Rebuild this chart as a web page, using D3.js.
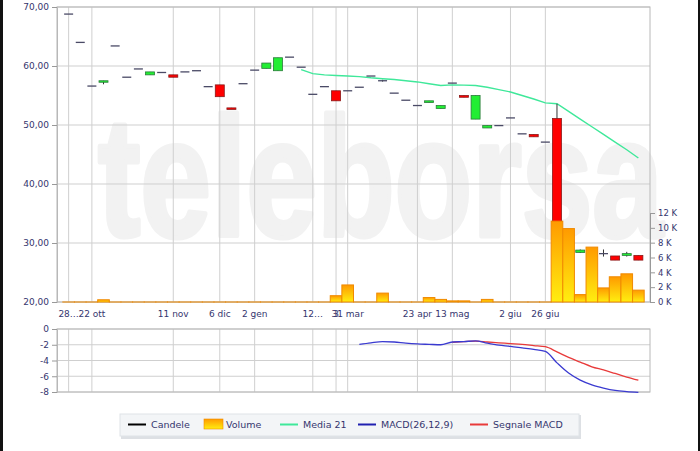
<!DOCTYPE html>
<html><head><meta charset="utf-8">
<script src="https://cdn.jsdelivr.net/npm/d3@7"></script>
<style>body{margin:0;background:#fff}svg{display:block;font-family:"DejaVu Sans",Verdana,sans-serif}</style>
</head><body><svg id="c" width="700" height="451"></svg>
<script>
// ---- data ----
const sessions = d3.range(50);
const opens  = [68.8,64.0,56.6,57.4,63.4,58.1,59.5,58.5,58.9,58.5,59.0,59.2,56.5,56.8,52.9,57.0,59.3,59.6,59.2,61.5,59.8,55.2,56.5,55.8,55.8,56.4,58.3,57.5,55.4,54.2,53.3,53.8,52.8,57.1,55.0,51.0,49.5,49.9,51.2,48.5,48.4,47.1,51.1,29.0,28.4,28.6,28.2,27.8,27.9,27.9];
const highs  = [68.8,64.0,56.6,57.5,63.4,58.1,59.5,59.0,58.9,58.5,59.0,59.2,56.5,56.8,52.9,57.0,59.3,60.5,61.4,61.5,59.8,55.2,56.5,55.8,55.8,56.4,58.3,57.65,55.4,54.2,53.3,54.1,53.3,57.1,55.0,55.0,49.9,49.9,51.2,48.5,48.4,47.1,53.6,29.0,28.9,28.6,28.9,27.8,28.5,27.9];
const lows   = [68.8,64.0,56.6,56.9,63.4,58.1,59.5,58.5,58.9,58.1,59.0,59.2,56.5,54.8,52.7,57.0,59.3,59.6,59.2,61.5,59.8,55.2,56.5,54.1,55.8,56.4,58.3,57.35,55.4,54.2,53.3,53.8,52.8,57.1,54.7,51.0,49.5,49.9,51.2,48.5,48.0,47.1,29.5,29.0,28.3,28.6,27.7,27.1,27.7,27.1];
const closes = [68.8,64.0,56.6,57.5,63.4,58.1,59.5,59.0,58.9,58.1,59.0,59.2,56.5,54.8,52.7,57.0,59.3,60.5,61.4,61.5,59.8,55.2,56.5,54.1,55.8,56.4,58.3,57.5,55.4,54.2,53.3,54.1,53.3,57.1,54.7,55.0,49.9,49.9,51.2,48.5,48.0,47.1,29.5,29.0,28.8,28.6,28.2,27.1,28.2,27.1];
const volumeK = [0,0,0,0.3,0,0,0,0,0,0,0,0,0,0,0,0,0,0,0,0,0,0,0,0.85,2.3,0,0,1.2,0,0,0,0.6,0.35,0.15,0.15,0,0.35,0,0,0,0,0,10.9,9.9,1.0,7.4,1.9,3.4,3.8,1.6];
const media21 = [null,null,null,null,null,null,null,null,null,null,null,null,null,null,null,null,null,null,null,null,59.4,58.7,58.5,58.4,58.3,58.2,58.0,57.85,57.7,57.5,57.3,57.0,56.7,56.8,56.75,56.7,56.4,56.0,55.6,55.0,54.4,53.75,53.6,52.3,51.0,49.7,48.4,47.1,45.8,44.4];
const macd = [null,null,null,null,null,null,null,null,null,null,null,null,null,null,null,null,null,null,null,null,null,null,null,null,null,-1.95,-1.75,-1.6,-1.65,-1.8,-1.9,-1.95,-2.0,-1.65,-1.6,-1.5,-1.8,-2.05,-2.2,-2.4,-2.6,-2.85,-4.3,-5.6,-6.5,-7.1,-7.5,-7.8,-7.95,-8.05];
const signal = [null,null,null,null,null,null,null,null,null,null,null,null,null,null,null,null,null,null,null,null,null,null,null,null,null,null,null,null,null,null,null,null,null,-1.7,-1.6,-1.55,-1.65,-1.75,-1.85,-1.95,-2.1,-2.25,-2.9,-3.6,-4.2,-4.8,-5.2,-5.65,-6.1,-6.5];
const tickIndex  = [0,2,9,13,16,21,23,24,30,33,38,41];
const tickLabels = ["28…","22 ott","11 nov","6 dic","2 gen","12…","3","31 mar","23 apr","13 mag","2 giu","26 giu"];
const priceTicks = [20,30,40,50,60,70];
const volTicks = [0,2,4,6,8,10,12];
const macdTicks = [0,-2,-4,-6,-8];
const legendItems = ["Candele","Volume","Media 21","MACD(26,12,9)","Segnale MACD"];

// ---- layout ----
const svg = d3.select("#c");
const L = 57, R = 650, T = 7, B = 302, MT = 329, MB = 392;
const txt = "#35356e", grid = "#cfcfcf", border = "#b8b8b8";
const x = d3.scalePoint().domain(sessions).range([L, R]).padding(1);
const step = x.step();
const y = d3.scaleLinear().domain([20, 70]).range([B, T]);
const yv = d3.scaleLinear().domain([0, 12]).range([B, 213]);
const ym = d3.scaleLinear().domain([-8, 0]).range([MB, MT]);

svg.append("rect").attr("x",0).attr("y",0).attr("width",3).attr("height",451).attr("fill","#111");
svg.append("rect").attr("x",698).attr("y",0).attr("width",2).attr("height",451).attr("fill","#111");

// watermark
svg.append("text").attr("x",98).attr("y",236).attr("font-family","Liberation Sans, Arial, sans-serif")
  .attr("font-weight","bold").attr("font-size",168).attr("fill","#f2f2f2")
  .attr("stroke","#f2f2f2").attr("stroke-width",5).attr("stroke-linejoin","round")
  .attr("textLength",565).attr("lengthAdjust","spacingAndGlyphs").text("teleborsa");

// main grid
const gMain = svg.append("g");
gMain.selectAll("line.h").data(priceTicks).join("line")
  .attr("x1",L).attr("x2",R).attr("y1",d=>y(d)).attr("y2",d=>y(d)).attr("stroke",grid);
gMain.selectAll("line.v").data(tickIndex).join("line")
  .attr("x1",d=>x(d)).attr("x2",d=>x(d)).attr("y1",T).attr("y2",B).attr("stroke",grid);
gMain.append("rect").attr("x",L).attr("y",T).attr("width",R-L).attr("height",B-T)
  .attr("fill","none").attr("stroke",border);

// price axis
const ay = svg.append("g").attr("transform",`translate(${L},0)`)
  .call(d3.axisLeft(y).tickValues(priceTicks).tickSize(5).tickFormat(d=>d3.format(".2f")(d).replace(".",",")));
ay.select(".domain").attr("stroke",border);
ay.selectAll(".tick line").attr("stroke","#999");
ay.selectAll("text").attr("fill",txt).attr("font-size",9).attr("font-family","DejaVu Sans");

// volume axis
const av = svg.append("g").attr("transform",`translate(${R},0)`)
  .call(d3.axisRight(yv).tickValues(volTicks).tickSize(5).tickFormat(d=>d+" K"));
av.select(".domain").attr("stroke","#999");
av.selectAll(".tick line").attr("stroke","#999");
av.selectAll("text").attr("fill",txt).attr("font-size",8.5).attr("font-family","DejaVu Sans").attr("x",8);

// x labels
svg.append("g").selectAll("text").data(tickIndex).join("text")
  .attr("x",d=>x(d)).attr("y",317).attr("text-anchor","middle").attr("fill",txt)
  .attr("font-size",9).text((d,i)=>tickLabels[i]);

// media 21
svg.append("path").datum(sessions.filter(i=>media21[i]!=null))
  .attr("d",d3.line().x(i=>x(i)).y(i=>y(media21[i])))
  .attr("fill","none").attr("stroke","#3fe89a").attr("stroke-width",1.4);

// candles
const cw = 9;
const gc = svg.append("g");
sessions.forEach(i=>{
  const o=opens[i], c=closes[i], h=highs[i], l=lows[i];
  const flat = Math.abs(o-c) < 0.05;
  if (h-l > 0.05) gc.append("line").attr("x1",x(i)).attr("x2",x(i)).attr("y1",y(h)).attr("y2",y(l))
      .attr("stroke","#333").attr("stroke-width",1);
  if (flat) {
    gc.append("line").attr("x1",x(i)-cw/2).attr("x2",x(i)+cw/2).attr("y1",y(c)).attr("y2",y(c))
      .attr("stroke","#4a4a66").attr("stroke-width",1.3);
  } else {
    const up = c > o;
    gc.append("rect").attr("x",x(i)-cw/2).attr("width",cw)
      .attr("y",y(Math.max(o,c))).attr("height",Math.max(1.5,Math.abs(y(o)-y(c))))
      .attr("fill",up?"#22ee33":"#ff0000").attr("stroke",up?"#2a7a3a":"#8a1a1a").attr("stroke-width",0.8);
  }
});

// volume bars
const defs = svg.append("defs");
const gr = defs.append("linearGradient").attr("id","vg").attr("x1",0).attr("y1",0).attr("x2",0).attr("y2",1);
gr.append("stop").attr("offset","0%").attr("stop-color","#ff9a00");
gr.append("stop").attr("offset","100%").attr("stop-color","#ffee10");
svg.append("g").selectAll("rect").data(sessions).join("rect")
  .attr("x",i=>x(i)-step/2).attr("width",step)
  .attr("y",i=>yv(volumeK[i])).attr("height",i=>Math.max(0.01,yv(0)-yv(volumeK[i])))
  .attr("fill","url(#vg)").attr("stroke","#f08a00").attr("stroke-width",1);

// MACD panel
const gM = svg.append("g");
gM.selectAll("line.h").data(macdTicks).join("line")
  .attr("x1",L).attr("x2",R).attr("y1",d=>ym(d)).attr("y2",d=>ym(d)).attr("stroke",grid);
gM.selectAll("line.v").data(tickIndex).join("line")
  .attr("x1",d=>x(d)).attr("x2",d=>x(d)).attr("y1",MT).attr("y2",MB).attr("stroke",grid);
gM.append("rect").attr("x",L).attr("y",MT).attr("width",R-L).attr("height",MB-MT)
  .attr("fill","none").attr("stroke",border);
const am = svg.append("g").attr("transform",`translate(${L},0)`)
  .call(d3.axisLeft(ym).tickValues(macdTicks).tickSize(5).tickFormat(d=>String(d)));
am.select(".domain").attr("stroke",border);
am.selectAll(".tick line").attr("stroke","#999");
am.selectAll("text").attr("fill",txt).attr("font-size",9).attr("font-family","DejaVu Sans");

const lineM = arr => d3.line().curve(d3.curveMonotoneX).x(i=>x(i)).y(i=>ym(arr[i]));
svg.append("path").datum(sessions.filter(i=>signal[i]!=null)).attr("d",lineM(signal))
  .attr("fill","none").attr("stroke","#e83a3a").attr("stroke-width",1.3);
svg.append("path").datum(sessions.filter(i=>macd[i]!=null)).attr("d",lineM(macd))
  .attr("fill","none").attr("stroke","#3a3ad0").attr("stroke-width",1.3);

// legend
const lg = svg.append("g");
lg.append("rect").attr("x",121).attr("y",415).attr("width",460).attr("height",24).attr("fill","#dde0e4");
lg.append("rect").attr("x",120).attr("y",414).attr("width",459).attr("height",22).attr("fill","#f3f5f7").attr("stroke","#dfe3e7");
const legX = [128,204,280,358,470];
const legCol = ["#000","url(#vg)","#3fe89a","#2020b0","#e83a3a"];
legendItems.forEach((name,i)=>{
  if (i===1) lg.append("rect").attr("x",legX[i]).attr("y",419).attr("width",19).attr("height",10)
      .attr("fill","url(#vg)").attr("stroke","#f08a00").attr("stroke-width",0.6);
  else lg.append("line").attr("x1",legX[i]).attr("x2",legX[i]+18).attr("y1",424.5).attr("y2",424.5)
      .attr("stroke",legCol[i]).attr("stroke-width",2);
  lg.append("text").attr("x",legX[i]+(i===1?22:23)).attr("y",428).attr("fill",txt)
    .attr("font-size",9.5).text(name);
});
</script></body></html>
